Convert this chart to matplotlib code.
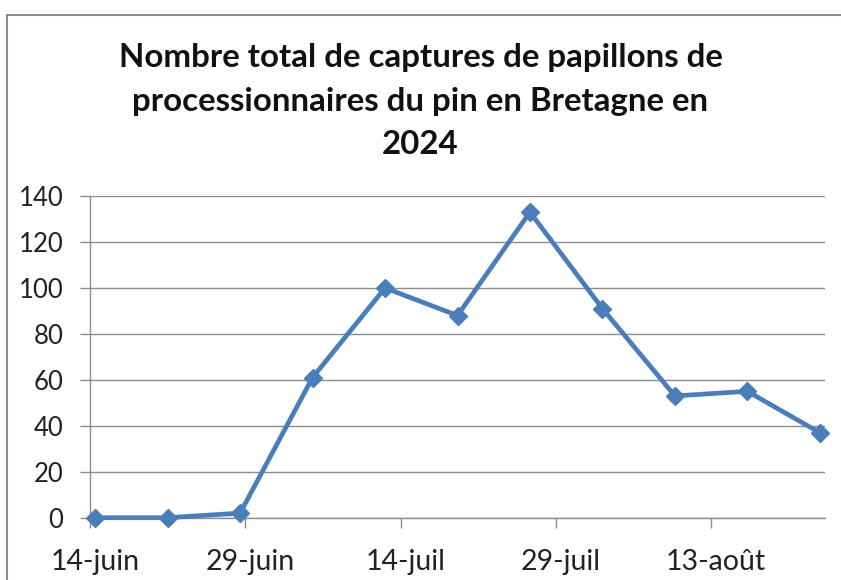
import matplotlib
matplotlib.use("Agg")
import matplotlib.pyplot as plt
import matplotlib.transforms as mtransforms
import numpy as np

# weekly counts, first reading on 14 June 2024
dates = np.arange(np.datetime64("2024-06-14"), np.datetime64("2024-08-24"), 7)
captures = [0, 0, 2, 61, 100, 88, 133, 91, 53, 55, 37]

tick_dates = ["2024-06-14", "2024-06-29", "2024-07-14", "2024-07-29", "2024-08-13"]
tick_labels = ["14-juin", "29-juin", "14-juil", "29-juil", "13-août"]
yticks = [0, 20, 40, 60, 80, 100, 120, 140]

title = "Nombre total de captures de papillons de\nprocessionnaires du pin en Bretagne en\n2024"

start = np.datetime64("2024-06-14")
x = (dates - start).astype(int) + 0.5      # points sit mid-day, as in Excel
xt = (np.array(tick_dates, dtype="datetime64[D]") - start).astype(int)

plt.rcParams["font.family"] = ["Lato", "DejaVu Sans"]

fig = plt.figure(figsize=(8.41, 5.80), dpi=100)
ax = fig.add_axes([0.107, 0.1074, 0.874, 0.5546])

grid_col = "#8c8c8c"
ax.plot(x, captures, color="#4a7ebb", lw=3.4, marker="D", ms=9.5,
        solid_joinstyle="miter", zorder=3, clip_on=False)

ax.set_xlim(0, 71)
ax.set_ylim(0, 140)
ax.set_yticks(yticks)
ax.set_xticks(xt)
ax.set_xticklabels(tick_labels)
ax.yaxis.grid(True, color=grid_col, lw=1.0)
ax.set_axisbelow(True)

for s in ["top", "right"]:
    ax.spines[s].set_visible(False)
for s in ["left", "bottom"]:
    ax.spines[s].set_color(grid_col)
    ax.spines[s].set_linewidth(1.0)

ax.tick_params(axis="y", length=7, width=1, color=grid_col, pad=12,
               labelsize=18.5, labelcolor="#222222")
ax.tick_params(axis="x", length=7, width=1, color=grid_col, pad=15.5,
               labelsize=20.5, labelcolor="#222222")
offset = mtransforms.ScaledTranslation(5 / 100, 0, fig.dpi_scale_trans)
for lab in ax.get_xticklabels():
    lab.set_transform(lab.get_transform() + offset)

fig.text(0.500, 0.925, title, ha="center", va="top", fontsize=23.8,
         fontweight="bold", linespacing=1.6, color="#111111")

# outer chart frame
frame = plt.Rectangle((7 / 841, -0.05), 1.05, 1 - 14.5 / 580 + 0.05,
                      transform=fig.transFigure, fill=False,
                      edgecolor="#8c8c8c", lw=1.5, clip_on=False)
fig.patches.append(frame)

fig.savefig("out.png", dpi=100)
